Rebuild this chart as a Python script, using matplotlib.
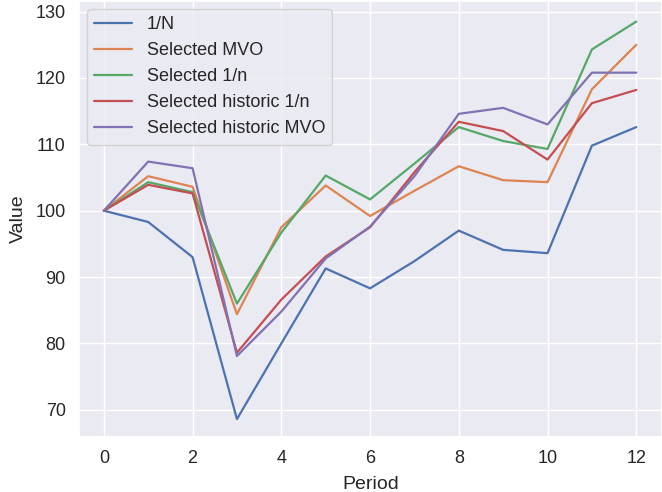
import matplotlib
matplotlib.use("Agg")
import matplotlib.pyplot as plt
import seaborn as sns

periods = list(range(13))

equal_weight = [100, 98.3, 93.0, 68.6, 80.0, 91.3, 88.3, 92.4, 97.0, 94.1, 93.6, 109.8, 112.6]
selected_mvo = [100, 105.2, 103.6, 84.4, 97.5, 103.8, 99.2, 103.0, 106.7, 104.6, 104.3, 118.3, 125.0]
selected_equal = [100, 104.3, 102.8, 86.0, 96.7, 105.3, 101.7, 107.1, 112.6, 110.5, 109.3, 124.3, 128.5]
historic_equal = [100, 103.9, 102.6, 78.6, 86.6, 93.1, 97.5, 105.8, 113.4, 112.0, 107.7, 116.2, 118.2]
historic_mvo = [100, 107.4, 106.4, 78.1, 84.8, 92.8, 97.6, 105.2, 114.6, 115.5, 113.0, 120.8, 120.8]

series_names = ["1/N", "Selected MVO", "Selected 1/n",
                "Selected historic 1/n", "Selected historic MVO"]
series_values = [equal_weight, selected_mvo, selected_equal,
                 historic_equal, historic_mvo]

sns.set_theme(style="darkgrid")
plt.rcParams["font.family"] = ["Liberation Sans", "DejaVu Sans"]

fig = plt.figure(figsize=(6.62, 4.92), dpi=100)
ax = fig.add_axes([79 / 662, 55 / 492, (662 - 79) / 662, (492 - 1 - 55) / 492])

for name, values in zip(series_names, series_values):
    ax.plot(periods, values, label=name, linewidth=1.6)

ax.set_xlim(-0.56, 12.58)
ax.set_ylim(65.9, 131.6)
ax.set_xticks([0, 2, 4, 6, 8, 10, 12])
ax.set_yticks([70, 80, 90, 100, 110, 120, 130])
ax.tick_params(labelsize=13, colors="#262626")
ax.set_xlabel("Period", fontsize=14, color="#262626", labelpad=6)
ax.set_ylabel("Value", fontsize=14, color="#262626", labelpad=6)
ax.legend(loc="upper left", fontsize=13, handlelength=2.1,
          borderaxespad=0.45, labelspacing=0.5)

fig.savefig("out.png", dpi=100)
